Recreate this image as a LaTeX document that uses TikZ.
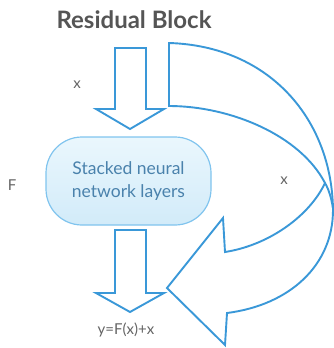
\documentclass[tikz,border=0pt]{standalone}
\usepackage{fontspec}
\setmainfont{Lato}
\usepackage{tikz}
\usetikzlibrary{positioning}
\definecolor{lineblue}{RGB}{58,152,216}
\definecolor{boxedge}{RGB}{128,196,238}
\definecolor{boxtop}{RGB}{234,247,253}
\definecolor{boxbot}{RGB}{210,235,249}
\definecolor{boxtext}{RGB}{74,130,172}
\definecolor{labelgray}{RGB}{100,100,100}
\begin{document}
\begin{tikzpicture}
    [x=1pt, y=-1pt,
    blockarrow/.style = {draw=lineblue, line width=1.9pt, line join=miter, fill=white},
    lbl/.style = {text=labelgray, font=\fontsize{15}{18}\selectfont, inner sep=0pt},
    layerbox/.style = {shape=rectangle, rounded corners=36pt, draw=boxedge, line width=1.2pt,
        top color=boxtop, bottom color=boxbot, align=center, text=boxtext,
        minimum width=165pt, minimum height=88pt,
        font=\fontsize{17.5}{23}\selectfont}]
    \useasboundingbox (0,0) rectangle (334,348);

    \node (title) at (134,20) {\fontsize{24}{28}\selectfont\bfseries\color{labelgray!85!black}Residual Block};
    \node[layerbox] (layers) at (128.5,181) {Stacked neural\\ network layers};

    % block arrows into and out of the layers
    \draw[blockarrow] (115,48) -- (146,48) -- (146,109) -- (164,109) -- (130,129)
        -- (96,109) -- (115,109) -- cycle;
    \draw[blockarrow] (115,230) -- (146,230) -- (146,293) -- (164,293) -- (130,312)
        -- (96,293) -- (115,293) -- cycle;

    % skip connection
    \draw[blockarrow] (169,43) .. controls (270,46) and (332,120) .. (333,210)
        .. controls (333,265) and (290,305) .. (227,313)
        -- (225,345) -- (167,288) -- (223,218) -- (225,252)
        .. controls (270,245) and (310,215) .. (325,183)
        .. controls (300,135) and (230,106) .. (169,106) -- cycle;
    \draw[draw=lineblue, line width=1.9pt] (325,183) .. controls (329,190) and (331,197) .. (333,208);

    \node[lbl] (xin) at (77,85) {x};
    \node[lbl] (F) at (12,185) {F};
    \node[lbl] (xskip) at (284,181) {x};
    \node[lbl] (out) at (126,330) {y=F(x)+x};
\end{tikzpicture}
\end{document}
